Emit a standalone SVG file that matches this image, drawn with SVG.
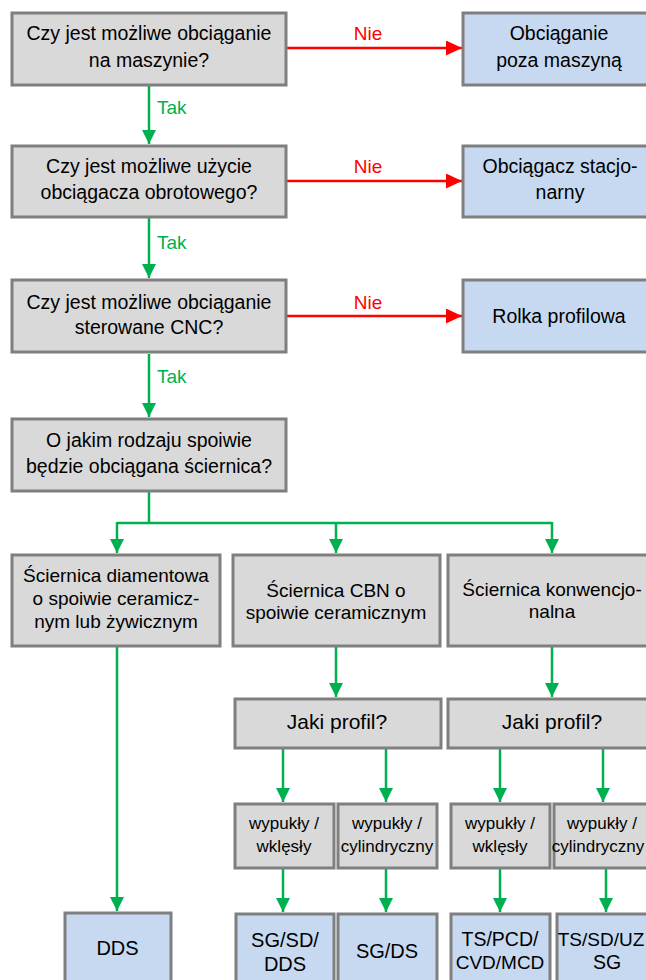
<svg xmlns="http://www.w3.org/2000/svg" width="646" height="980" viewBox="0 0 646 980">
<style>
text{font-family:"Liberation Sans",Arial,sans-serif;fill:#000;text-anchor:middle}
.q{fill:#d9d9d9;stroke:#7f7f7f;stroke-width:3}
.a{fill:#c6d9f0;stroke:#7f7f7f;stroke-width:3}
.t{font-size:19.5px}
.m{font-size:19px}
.s{font-size:17px}
.r{font-size:20px}
.g{stroke:#00b050;stroke-width:2.5;fill:none}
.red{stroke:#ff0000;stroke-width:2.5;fill:none}
.lg{fill:#00b050;font-size:19px;text-anchor:start}
.lr{fill:#ff0000;font-size:19px}
</style>
<defs>
<marker id="ag" markerUnits="userSpaceOnUse" markerWidth="14" markerHeight="14" refX="14" refY="7" orient="auto">
<path d="M0,0 L14,7 L0,14 z" fill="#00b050"/>
</marker>
<marker id="ar" markerUnits="userSpaceOnUse" markerWidth="16" markerHeight="16" refX="16" refY="7.5" orient="auto">
<path d="M0,0 L16,7.5 L0,15 z" fill="#ff0000"/>
</marker>
</defs>

<g id="connectors">
<line class="red" x1="287" y1="48" x2="462" y2="48" marker-end="url(#ar)"/>
<line class="red" x1="287" y1="181" x2="462" y2="181" marker-end="url(#ar)"/>
<line class="red" x1="287" y1="316" x2="462" y2="316" marker-end="url(#ar)"/>
<line class="g" x1="149" y1="86" x2="149" y2="144" marker-end="url(#ag)"/>
<line class="g" x1="149" y1="218" x2="149" y2="278" marker-end="url(#ag)"/>
<line class="g" x1="149" y1="354" x2="149" y2="417" marker-end="url(#ag)"/>
<polyline class="g" points="149,492 149,523"/>
<polyline class="g" points="117,523 552,523"/>
<line class="g" x1="117" y1="522" x2="117" y2="553" marker-end="url(#ag)"/>
<line class="g" x1="336" y1="522" x2="336" y2="553" marker-end="url(#ag)"/>
<line class="g" x1="552" y1="522" x2="552" y2="553" marker-end="url(#ag)"/>
<line class="g" x1="117" y1="647" x2="117" y2="911" marker-end="url(#ag)"/>
<line class="g" x1="336" y1="647" x2="336" y2="697" marker-end="url(#ag)"/>
<line class="g" x1="552" y1="647" x2="552" y2="697" marker-end="url(#ag)"/>
<line class="g" x1="283" y1="749" x2="283" y2="802" marker-end="url(#ag)"/>
<line class="g" x1="386" y1="749" x2="386" y2="802" marker-end="url(#ag)"/>
<line class="g" x1="500" y1="749" x2="500" y2="802" marker-end="url(#ag)"/>
<line class="g" x1="603" y1="749" x2="603" y2="802" marker-end="url(#ag)"/>
<line class="g" x1="283" y1="869" x2="283" y2="912" marker-end="url(#ag)"/>
<line class="g" x1="386" y1="869" x2="386" y2="912" marker-end="url(#ag)"/>
<line class="g" x1="500" y1="869" x2="500" y2="912" marker-end="url(#ag)"/>
<line class="g" x1="606" y1="869" x2="606" y2="912" marker-end="url(#ag)"/>
<text class="lr" x="368" y="40">Nie</text>
<text class="lr" x="368" y="173">Nie</text>
<text class="lr" x="368" y="309">Nie</text>
<text class="lg" x="157" y="114">Tak</text>
<text class="lg" x="157" y="249">Tak</text>
<text class="lg" x="157" y="383">Tak</text>
</g>

<g id="q1"><rect class="q" x="12" y="13" width="274" height="72"/>
<text class="t" x="149" y="40">Czy jest możliwe obciąganie</text>
<text class="t" x="149" y="67">na maszynie?</text></g>
<g id="r1"><rect class="a" x="463" y="13" width="194" height="72"/>
<text class="t" x="559" y="40">Obciąganie</text>
<text class="t" x="559" y="67">poza maszyną</text></g>

<g id="q2"><rect class="q" x="12" y="146" width="274" height="71"/>
<text class="t" x="149" y="173">Czy jest możliwe użycie</text>
<text class="t" x="149" y="199">obciągacza obrotowego?</text></g>
<g id="r2"><rect class="a" x="463" y="146" width="194" height="71"/>
<text class="t" x="560" y="173">Obciągacz stacjo-</text>
<text class="t" x="560" y="199">narny</text></g>

<g id="q3"><rect class="q" x="12" y="280" width="274" height="72"/>
<text class="t" x="149" y="309">Czy jest możliwe obciąganie</text>
<text class="t" x="149" y="334">sterowane CNC?</text></g>
<g id="r3"><rect class="a" x="463" y="280" width="194" height="72"/>
<text class="t" x="559" y="323">Rolka profilowa</text></g>

<g id="q4"><rect class="q" x="12" y="419" width="274" height="72"/>
<text class="t" x="149" y="447">O jakim rodzaju spoiwie</text>
<text class="t" x="149" y="473">będzie obciągana ściernica?</text></g>

<g id="wA"><rect class="q" x="12" y="555" width="208" height="91"/>
<text class="m" x="116" y="582">Ściernica diamentowa</text>
<text class="m" x="116" y="605">o spoiwie ceramicz-</text>
<text class="m" x="116" y="628">nym lub żywicznym</text></g>
<g id="wB"><rect class="q" x="233" y="555" width="207" height="91"/>
<text class="m" x="336" y="597">Ściernica CBN o</text>
<text class="m" x="336" y="619">spoiwie ceramicznym</text></g>
<g id="wC"><rect class="q" x="448" y="555" width="210" height="91"/>
<text class="m" x="552" y="596">Ściernica konwencjo-</text>
<text class="m" x="552" y="618">nalna</text></g>

<g id="pB"><rect class="q" x="235" y="699" width="206" height="49"/>
<text class="r" x="337" y="729" style="font-size:21px">Jaki profil?</text></g>
<g id="pC"><rect class="q" x="448" y="699" width="210" height="49"/>
<text class="r" x="552" y="729" style="font-size:21px">Jaki profil?</text></g>

<g id="s1"><rect class="q" x="235" y="804" width="99" height="64"/>
<text class="s" x="284" y="829">wypukły /</text>
<text class="s" x="284" y="852">wklęsły</text></g>
<g id="s2"><rect class="q" x="338" y="804" width="99" height="64"/>
<text class="s" x="387" y="829">wypukły /</text>
<text class="s" x="387" y="852">cylindryczny</text></g>
<g id="s3"><rect class="q" x="451" y="804" width="99" height="64"/>
<text class="s" x="500" y="829">wypukły /</text>
<text class="s" x="500" y="852">wklęsły</text></g>
<g id="s4"><rect class="q" x="554" y="804" width="99" height="64"/>
<text class="s" x="602" y="829">wypukły /</text>
<text class="s" x="598" y="852">cylindryczny</text></g>

<g id="dds"><rect class="a" x="65" y="913" width="106" height="80"/>
<text class="r" x="117.5" y="955">DDS</text></g>
<g id="e1"><rect class="a" x="236" y="914" width="98" height="80"/>
<text class="r" x="285" y="947">SG/SD/</text>
<text class="r" x="285" y="971">DDS</text></g>
<g id="e2"><rect class="a" x="338" y="914" width="99" height="80"/>
<text class="r" x="387" y="958">SG/DS</text></g>
<g id="e3"><rect class="a" x="451" y="914" width="99" height="80"/>
<text class="r" x="500" y="946" style="font-size:19.5px">TS/PCD/</text>
<text class="r" x="500" y="969" style="font-size:19px">CVD/MCD</text></g>
<g id="e4"><rect class="a" x="557" y="914" width="100" height="80"/>
<text class="r" x="601" y="946" style="font-size:19px">TS/SD/UZ</text>
<text class="r" x="607" y="969" style="font-size:19.5px">SG</text></g>
</svg>
